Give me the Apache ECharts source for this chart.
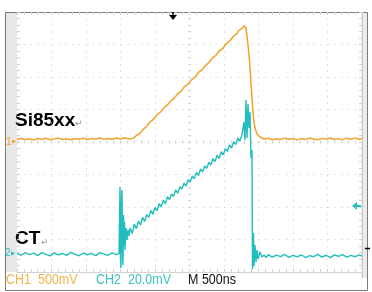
<!DOCTYPE html>
<html><head><meta charset="utf-8">
<script src="https://cdn.jsdelivr.net/npm/echarts@6/dist/echarts.min.js"></script>
<style>html,body{margin:0;padding:0;background:#fff}#c{width:372px;height:292px}</style>
</head><body><div id="c"></div>
<script>
// CH1 (Si85xx output), time in ns, value in mV (500 mV/div)
const ch1Time = [-2500,-2440,-2380,-2320,-2260,-2200,-2140,-2080,-2020,-1960,-1900,-1840,-1780,-1720,-1660,-1600,-1540,-1480,-1420,-1360,-1300,-1240,-1180,-1120,-1060,-1000,-940,-880,
  -819,-770,-720,-670,-620,-570,-520,-470,-420,-370,-320,-270,-220,-170,-120,-70,-20,30,80,130,180,230,280,330,380,430,480,530,580,630,680,720,760,790,804,
  819,848,869,884,898,913,927,949,978,1022,1080,
  1140,1200,1260,1320,1380,1440,1500,1560,1620,1680,1740,1800,1860,1920,1980,2040,2100,2160,2220,2280,2340,2400,2460,2500];
const ch1mV = [28,40,22,35,18,38,25,42,20,33,45,24,36,19,40,27,44,23,37,30,46,25,39,28,47,32,50,36,
  40,85,118,180,228,295,336,405,447,510,556,615,660,728,768,840,878,945,982,1055,1094,1160,1205,1275,1316,1385,1420,1495,1535,1605,1645,1705,1730,1775,1790,
  1738,1477,1246,1015,785,554,354,200,108,62,31,
  42,20,36,22,44,27,38,18,40,25,45,30,19,41,26,46,23,37,21,44,28,48,24,38];

// CH2 (CT), time in ns, value in mV (20 mV/div)
const ch2Time = [-2500,-2440,-2380,-2320,-2260,-2200,-2140,-2080,-2020,-1960,-1900,-1840,-1780,-1720,-1660,-1600,-1540,-1480,-1420,-1360,-1300,-1240,-1180,-1120,-1060,-1022,
  -1014,-1007,-1000,-993,-985,-978,-971,-964,-956,-949,-942,-935,-920,-906,-891,-877,
  -862,-830,-800,-770,-740,-710,-680,-650,-620,-590,-560,-530,-500,-470,-440,-410,-380,-350,-320,-290,-260,-230,-200,-170,-140,-110,-80,-50,-20,10,40,70,100,130,160,190,220,250,280,310,340,370,400,430,460,490,520,550,580,610,640,670,700,730,760,
  775,790,804,819,833,848,862,877,891,906,913,920,927,935,949,964,978,993,1022,1051,
  1080,1110,1140,1200,1260,1320,1380,1440,1500,1560,1620,1680,1740,1800,1860,1920,1980,2040,2100,2160,2220,2280,2340,2400,2460,2500];
const ch2mV = [-0.2,-1.4,0.3,-1.0,-0.1,-1.6,0.2,-0.9,-1.8,0.1,-1.2,-0.3,-1.5,0.4,-0.8,-1.7,0.0,-1.1,-0.2,-1.6,0.2,-0.7,-1.4,0.1,-1.0,-0.4,
  0.6,40.6,-4.3,-9.2,32.6,38.8,1.8,-7.4,23.4,4.9,19.1,1.8,15.4,8.0,14.2,10.5,
  15.4,12.0,17.8,15.0,19.6,17.2,21.9,19.5,23.6,22.0,26.2,23.8,28.1,26.0,30.3,28.4,32.5,30.2,34.6,32.9,36.4,34.8,38.9,36.7,40.8,39.4,42.9,41.2,45.1,43.5,47.2,45.8,49.6,47.6,51.7,49.9,53.6,52.2,55.9,54.1,58.0,56.3,60.2,58.1,62.3,60.4,64.2,62.5,66.4,64.6,68.5,66.8,70.6,68.9,72.8,
  72.0,80.6,69.5,94.2,70.8,91.7,76.9,86.8,58.5,63.4,-9.8,-4.3,12.3,-8.0,4.9,-5.5,1.8,-3.7,0.6,-2.5,
  -1.2,-2.9,-1.0,-2.6,-1.3,-2.2,-0.9,-2.7,-1.5,-2.4,-1.1,-2.8,-1.6,-2.3,-0.9,-2.5,-1.4,-2.9,-1.2,-2.1,-1.0,-2.6,-1.5,-2.3,-1.1,-2.0];

const CH1_SCALE = 500, CH2_SCALE = 20;     // mV per division
const CH1_GND = 0.03, CH2_GND = -3.415;     // ground position in divisions
const labels = { ch1: 'CH1  500mV', ch2: 'CH2  20.0mV', time: 'M 500ns', trace1: 'Si85xx', trace2: 'CT' };

const ORANGE = '#F0A22A', CYAN = '#22BDBD', GRID = '#c8c8c8', TICK = '#d2d2d2';
const d1 = ch1Time.map((t, i) => [t, ch1mV[i] / CH1_SCALE + CH1_GND]);
const d2 = ch2Time.map((t, i) => [t, ch2mV[i] / CH2_SCALE + CH2_GND]);

const chart = echarts.init(document.getElementById('c'), null, { renderer: 'canvas' });
const xBase = { type: 'value', min: -2500, max: 2500, interval: 500, axisLabel: { show: false }, splitLine: { show: false } };
const yBase = { type: 'value', min: -4, max: 4, interval: 1, axisLabel: { show: false }, splitLine: { show: false } };
const hiddenLine = (onZero) => ({ axisLine: { show: false, onZero, lineStyle: { color: 'rgba(0,0,0,0)', opacity: 0 } } });
const tk = (inside, len) => ({ axisTick: { show: true, inside, length: len, lineStyle: { color: TICK } },
  minorTick: { show: true, splitNumber: 5, length: len, lineStyle: { color: TICK } } });

chart.setOption({
  animation: false,
  grid: { left: 17, top: 12, width: 345, height: 260 },
  xAxis: [
    Object.assign({}, xBase, tk(true, 3), { position: 'bottom', axisLine: { show: true, onZero: false, lineStyle: { color: '#d4d4d4' } },
      splitLine: { show: true, lineStyle: { color: GRID, type: [1, 5.5] } } }),
    Object.assign({}, xBase, tk(true, 3), { position: 'top' }, hiddenLine(false)),
    Object.assign({}, xBase, tk(true, 1.5), hiddenLine(true)),
    Object.assign({}, xBase, tk(false, 1.5), hiddenLine(true))
  ],
  yAxis: [
    Object.assign({}, yBase, tk(true, 3), { position: 'left',
      splitLine: { show: true, lineStyle: { color: GRID, type: [1, 5.9] } } }, hiddenLine(false)),
    Object.assign({}, yBase, tk(true, 3), { position: 'right' }, hiddenLine(false)),
    Object.assign({}, yBase, tk(true, 1.5), hiddenLine(true)),
    Object.assign({}, yBase, tk(false, 1.5), hiddenLine(true))
  ],
  series: [
    { type: 'line', data: d2, xAxisIndex: 0, yAxisIndex: 0, symbol: 'none', lineStyle: { color: CYAN, width: 1.4 }, z: 3 },
    { type: 'line', data: d1, xAxisIndex: 0, yAxisIndex: 0, symbol: 'none', lineStyle: { color: ORANGE, width: 1.5 }, z: 4 }
  ],
  graphic: [
    { type: 'rect', z: -10, shape: { x: 5, y: 12, width: 12, height: 260 }, style: { fill: '#e8e8e8' } },
    { type: 'rect', z: -10, shape: { x: 361, y: 12, width: 7, height: 266 }, style: { fill: '#ececec' } },
    { type: 'line', shape: { x1: 362.5, y1: 12, x2: 362.5, y2: 278 }, style: { stroke: '#c8c8c8', lineWidth: 1 } },
    { type: 'rect', shape: { x: 5.5, y: 12.5, width: 362, height: 278 }, style: { fill: null, stroke: '#7a7a7a', lineWidth: 1 } },
    // trigger position arrow
    { type: 'line', shape: { x1: 173, y1: 12, x2: 173, y2: 16 }, style: { stroke: '#000', lineWidth: 1.5 } },
    { type: 'polygon', shape: { points: [[169, 15], [177, 15], [173, 20]] }, style: { fill: '#000' } },
    // channel markers
    { type: 'text', style: { text: '1', x: 6, y: 142, font: '10px "Liberation Sans"', fill: ORANGE, verticalAlign: 'middle' } },
    { type: 'polygon', shape: { points: [[12, 139.5], [16, 141.5], [12, 143.5]] }, style: { fill: ORANGE } },
    { type: 'text', style: { text: '2', x: 5, y: 253.5, font: '10px "Liberation Sans"', fill: CYAN, verticalAlign: 'middle' } },
    { type: 'polygon', shape: { points: [[11, 251.5], [15, 253.5], [11, 255.5]] }, style: { fill: CYAN } },
    // CH2 trigger level arrow (right)
    { type: 'polygon', shape: { points: [[352, 206], [357, 202], [357, 210]] }, style: { fill: CYAN } },
    { type: 'line', shape: { x1: 356, y1: 206, x2: 361, y2: 206 }, style: { stroke: CYAN, lineWidth: 2 } },
    { type: 'line', shape: { x1: 365, y1: 248.5, x2: 370, y2: 248.5 }, style: { stroke: '#000', lineWidth: 1.5 } },
    // trace labels
    { type: 'text', style: { text: labels.trace1, x: 15, y: 121, font: 'bold 19px "Liberation Sans"', fill: '#000', verticalAlign: 'middle' } },
    { type: 'text', style: { text: '\u21B5', x: 75, y: 124, font: '9px "DejaVu Sans"', fill: '#999', verticalAlign: 'middle' } },
    { type: 'text', style: { text: labels.trace2, x: 15, y: 239, font: 'bold 19px "Liberation Sans"', fill: '#000', verticalAlign: 'middle' } },
    { type: 'text', style: { text: '\u21B5', x: 41, y: 243, font: '9px "DejaVu Sans"', fill: '#999', verticalAlign: 'middle' } },
    // bottom readout
    { type: 'text', x: 6, y: 279.5, scaleY: 1.2, style: { text: labels.ch1, x: 0, y: 0, font: '12.5px "Liberation Sans"', fill: '#F2B446', verticalAlign: 'middle' } },
    { type: 'text', x: 96, y: 279.5, scaleY: 1.2, style: { text: labels.ch2, x: 0, y: 0, font: '12.5px "Liberation Sans"', fill: '#3EC3C3', verticalAlign: 'middle' } },
    { type: 'text', x: 188, y: 279.5, scaleY: 1.2, style: { text: labels.time, x: 0, y: 0, font: '12.5px "Liberation Sans"', fill: '#111', verticalAlign: 'middle' } }
  ]
});
</script></body></html>
